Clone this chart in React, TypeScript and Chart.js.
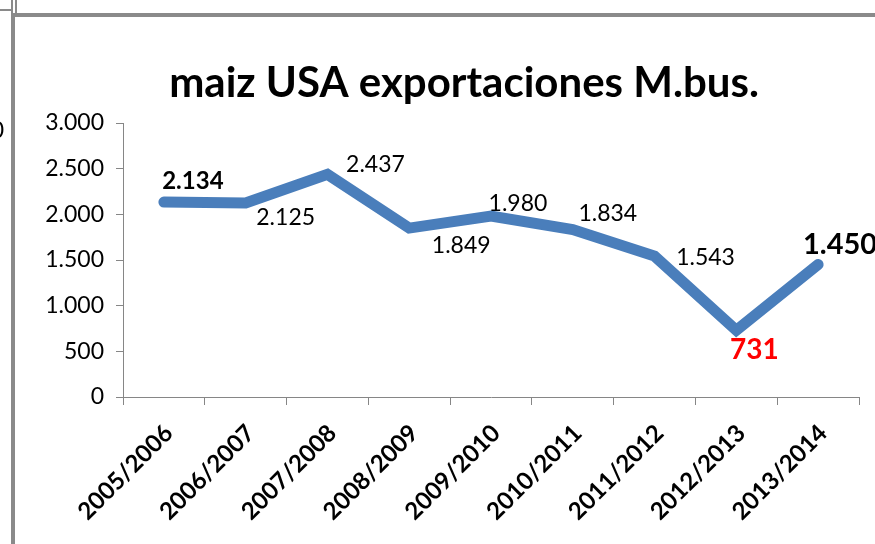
import React, { useEffect, useRef } from 'react';
import { Chart, registerables } from 'chart.js';

Chart.register(...registerables);

const chartTitle = 'maiz USA exportaciones M.bus.';
const categories = ['2005/2006', '2006/2007', '2007/2008', '2008/2009', '2009/2010', '2010/2011', '2011/2012', '2012/2013', '2013/2014'];
const exportsMBus = [2134, 2125, 2437, 1849, 1980, 1834, 1543, 731, 1450];
const yMin = 0;
const yMax = 3000;
const yStep = 500;

// label styling (separate from data)
const labelBold = [true, false, false, false, false, false, false, true, true];
const labelColor = ['#000', '#000', '#000', '#000', '#000', '#000', '#000', '#FF0000', '#000'];
const labelSize = [24, 23, 23, 23, 23, 23, 23, 28, 29];
const labelOffset: [number, number][] = [
  [29, -21], [40, 15], [48, -10], [52, 17], [27, -13], [35, -16], [51, 2], [18, 20], [22, -20],
];

const FONT = 'Lato';
const GRAY = '#868686';

const fmt = (v: number) => String(Math.round(v)).replace(/\B(?=(\d{3})+(?!\d))/g, '.');

const overlayPlugin = {
  id: 'overlay',
  afterDatasetsDraw(chart: any) {
    const ctx = chart.ctx;
    const meta = chart.getDatasetMeta(0);
    ctx.save();
    ctx.textAlign = 'center';
    ctx.textBaseline = 'middle';
    meta.data.forEach((pt: any, i: number) => {
      const v = exportsMBus[i];
      ctx.font = `${labelBold[i] ? 'bold ' : ''}${labelSize[i]}px ${FONT}`;
      ctx.fillStyle = labelColor[i];
      ctx.fillText(fmt(v), pt.x + labelOffset[i][0], pt.y + labelOffset[i][1]);
    });
    // title
    ctx.font = `bold 42px ${FONT}`;
    ctx.fillStyle = '#000';
    ctx.textBaseline = 'alphabetic';
    ctx.fillText(chartTitle, 464, 97);
    ctx.restore();
  },
};

export default function App() {
  const ref = useRef<HTMLCanvasElement | null>(null);
  useEffect(() => {
    if (!ref.current) return;
    const chart = new Chart(ref.current, {
      type: 'line',
      data: {
        labels: categories,
        datasets: [
          {
            data: exportsMBus,
            borderColor: '#4A7EBB',
            backgroundColor: '#4A7EBB',
            borderWidth: 11,
            pointRadius: 0,
            pointHoverRadius: 0,
            borderCapStyle: 'round',
            borderJoinStyle: 'miter',
            tension: 0,
            clip: false as any,
          },
        ],
      },
      options: {
        responsive: false,
        animation: false,
        layout: { padding: { top: 123, left: 0, right: 16, bottom: 0 } },
        plugins: {
          legend: { display: false },
          title: { display: false },
          tooltip: { enabled: false },
        },
        scales: {
          x: {
            type: 'category',
            offset: true,
            grid: { offset: true, drawOnChartArea: false, drawTicks: true, tickLength: 8, color: GRAY },
            border: { color: GRAY, width: 1 },
            ticks: {
              autoSkip: false,
              maxRotation: 45,
              minRotation: 45,
              padding: 14,
              labelOffset: 5,
              color: '#000',
              font: { family: FONT, weight: 'bold', size: 24 },
            },
            afterFit: (s: any) => { s.height = 147; },
          },
          y: {
            min: yMin,
            max: yMax,
            grid: { drawOnChartArea: false, drawTicks: true, tickLength: 7, color: GRAY },
            border: { color: GRAY, width: 1 },
            ticks: {
              stepSize: yStep,
              padding: 12,
              color: '#000',
              font: { family: FONT, size: 23 },
              callback: (v: any) => fmt(Number(v)),
            },
            afterFit: (s: any) => { s.width = 123; },
          },
        },
      } as any,
      plugins: [overlayPlugin],
    });
    return () => chart.destroy();
  }, []);

  return (
    <div style={{ position: 'fixed', left: 0, top: 0, width: 875, height: 544, background: '#fff', overflow: 'hidden' }}>
      <canvas ref={ref} width={875} height={544} style={{ position: 'absolute', left: 0, top: 0 }} />
      <div style={{ position: 'absolute', left: 0, top: 9, width: 11, height: 2, background: '#8a8a8a' }} />
      <div style={{ position: 'absolute', left: 11, top: 0, width: 2, height: 17, background: '#8a8a8a' }} />
      <div style={{ position: 'absolute', left: 15, top: 0, width: 2, height: 14, background: '#8a8a8a' }} />
      <div style={{ position: 'absolute', left: 11, top: 13, width: 864, height: 4, background: '#8a8a8a' }} />
      <div style={{ position: 'absolute', left: 11, top: 13, width: 4, height: 531, background: '#8a8a8a' }} />
      <div style={{ position: 'absolute', right: 871, top: 114, fontFamily: FONT, fontSize: 23, lineHeight: '30px', color: '#000' }}>0</div>
    </div>
  );
}
